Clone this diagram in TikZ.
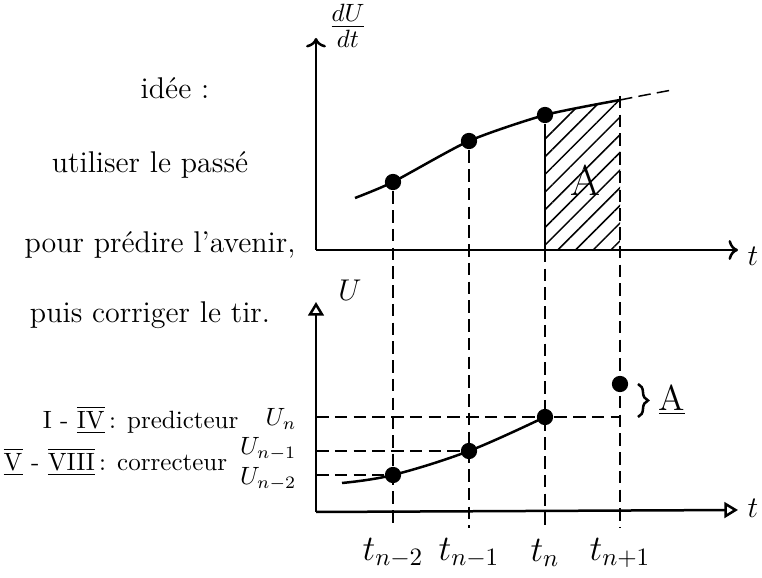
\documentclass[tikz,border=0pt]{standalone}
\usetikzlibrary{arrows.meta,patterns.meta,decorations.pathreplacing}
\begin{document}
\begin{tikzpicture}[x=0.4pt,y=-0.4pt,line width=1pt,
  dot/.style={circle,fill,inner sep=2.3pt},
  guide/.style={line width=0.6pt,dash pattern=on 5pt off 2.5pt},
  txt/.style={font=\large}]
\useasboundingbox (0,0) rectangle (762,578);

\node[txt] (idee) at (175,88) {idée :};
\node[txt] (passe) at (150,165) {utiliser le passé};
\node[txt] (avenir) at (160,245) {pour prédire l'avenir,};
\node[txt] (tir) at (150,315) {puis corriger le tir.};
\node[anchor=east] (pred) at (248,420) {I - $\overline{\underline{\mathrm{IV}}}$\,: predicteur};
\node[anchor=west,inner xsep=1pt] (corr) at (0,462) {$\overline{\underline{\mathrm{V}}}$ - $\overline{\underline{\mathrm{VIII}}}$\,: correcteur};

\coordinate (o1) at (316,250);
\draw[->] (o1) -- (316,38);
\draw[->] (o1) -- (738,250);
\node (dudt) at (348,26) {\Large $\frac{dU}{dt}$};
\node[txt] (t1) at (753,256) {$t$};

\coordinate (o2) at (316,512);
\draw[-{Triangle[open]}] (o2) -- (316,302);
\draw[-{Triangle[open]}] (o2) -- (738,510);
\node[txt] (u) at (350,290) {$U$};
\node[txt] (t2) at (753,508) {$t$};

\fill[pattern={Lines[angle=45,distance=5pt,line width=0.6pt]}]
  (545,250) -- (545,115) .. controls (570,110) and (595,104) .. (620,100) -- (620,250) -- cycle;
\draw plot[smooth,tension=0.4] coordinates {(355,198) (393,182) (469,141) (545,115) (620,100)};
\draw[guide] (620,100) .. controls (640,96) .. (672,90);
\node[font=\LARGE] (a1) at (585,180) {A};

\foreach \xx/\lab/\nm in {393/{n-2}/a,469/{n-1}/b,545/{n}/c,620/{n+1}/d} {
  \coordinate (bot\nm) at (\xx,528);
  \node[font=\Large] (t\nm) at (\xx,553) {$t_{\lab}$};
}
\node[dot] (pa) at (393,182) {};
\node[dot] (pb) at (469,141) {};
\node[dot] (pc) at (545,115) {};
\coordinate (pd) at (620,96);
\coordinate (hc) at (545,250);
\draw[guide] (pa) -- (bota);
\draw[guide] (pb) -- (botb);
\draw (pc) -- (hc);
\draw[guide] (hc) -- (botc);
\draw[guide] (pd) -- (botd);

\draw plot[smooth,tension=0.6] coordinates {(342,483) (393,475) (469,451) (545,417)};
\node[dot] (qa) at (393,475) {};
\node[dot] (qb) at (469,451) {};
\node[dot] (qc) at (545,417) {};
\node[dot] (qd) at (620,384) {};
\coordinate (ua) at (316,475);
\coordinate (ub) at (316,451);
\coordinate (uc) at (316,417);
\coordinate (ud) at (620,417);
\draw[guide] (ua) -- (qa);
\draw[guide] (ub) -- (qb);
\draw[guide] (uc) -- (qc) -- (ud);
\node[anchor=east] (un) at (306,419) {$U_n$};
\node[anchor=east] (un1) at (306,449) {$U_{n-1}$};
\node[anchor=east] (un2) at (306,479) {$U_{n-2}$};

\draw[decorate,decoration={brace,amplitude=4pt}] (638,384) -- (638,417);
\node[font=\Large] (a2) at (672,400) {\underline{A}};
\end{tikzpicture}
\end{document}
